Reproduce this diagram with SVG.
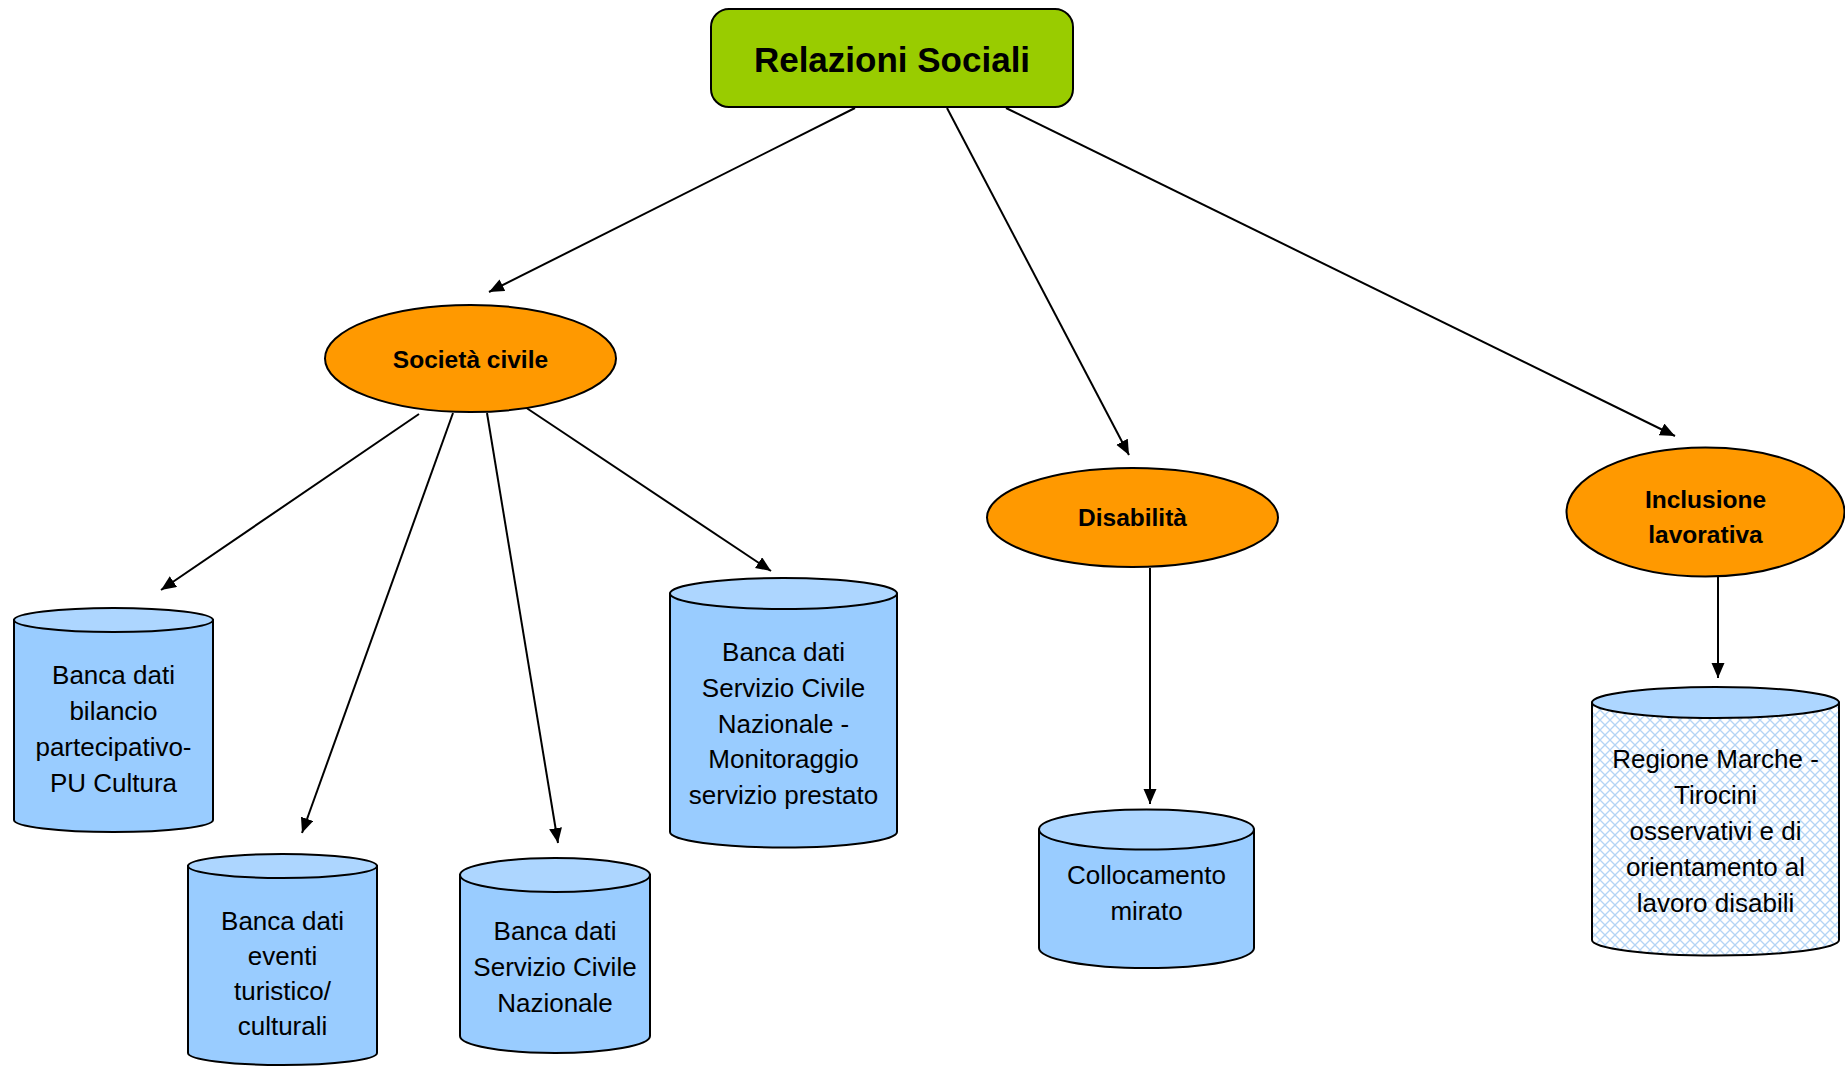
<svg xmlns="http://www.w3.org/2000/svg" width="1845" height="1066" viewBox="0 0 1845 1066">
<style>
.cyl{fill:#99CCFF;stroke:#000;stroke-width:2}
.cylh{fill:url(#hatch);stroke:#000;stroke-width:2}
.top{fill:#ADD6FF;stroke:#000;stroke-width:2}
.ell{fill:#FF9900;stroke:#000;stroke-width:2}
.t{font-family:"Liberation Sans",Arial,sans-serif;font-size:26px;fill:#000;text-anchor:middle}
.b{font-family:"Liberation Sans",Arial,sans-serif;font-weight:bold;font-size:24.5px;fill:#000;text-anchor:middle}
.c{stroke:#000;stroke-width:2;fill:none;marker-end:url(#arr)}
</style>
<defs>
<marker id="arr" markerUnits="userSpaceOnUse" markerWidth="16" markerHeight="14" refX="15" refY="6.5" orient="auto">
<path d="M0,0 L15,6.5 L0,13 z" fill="#000"/>
</marker>
<pattern id="hatch" patternUnits="userSpaceOnUse" width="10" height="10">
<rect width="10" height="10" fill="#fff"/>
<path d="M0,0 L10,10 M10,0 L0,10" stroke="#B3D4F5" stroke-width="1.3"/>
</pattern>
</defs>
<rect width="1845" height="1066" fill="#fff"/>
<g id="connectors">
<line class="c" x1="855" y1="108" x2="489" y2="292"/>
<line class="c" x1="947" y1="108" x2="1129" y2="455"/>
<line class="c" x1="1006" y1="108" x2="1675" y2="436"/>
<line class="c" x1="419" y1="414" x2="161" y2="590"/>
<line class="c" x1="453" y1="413" x2="302" y2="833"/>
<line class="c" x1="487" y1="413" x2="558" y2="843"/>
<line class="c" x1="525" y1="407" x2="771" y2="571"/>
<line class="c" x1="1150" y1="568" x2="1150" y2="804"/>
<line class="c" x1="1718" y1="577" x2="1718" y2="678"/>
</g>
<g id="relazioni">
<rect x="711" y="9" width="362" height="98" rx="18" ry="18" fill="#99CC00" stroke="#000" stroke-width="2"/>
<text x="892" y="72" class="b" style="font-size:35px">Relazioni Sociali</text>
</g>
<g id="societa">
<ellipse class="ell" cx="470.5" cy="358.5" rx="145.5" ry="53.5"/>
<text x="470.5" y="368" class="b">Società civile</text>
</g>
<g id="disabilita">
<ellipse class="ell" cx="1132.5" cy="517.5" rx="145.5" ry="49.5"/>
<text x="1132.5" y="526" class="b">Disabilità</text>
</g>
<g id="inclusione">
<ellipse class="ell" cx="1705.5" cy="512" rx="139" ry="64.5"/>
<text x="1705.5" y="508" class="b">Inclusione</text>
<text x="1705.5" y="543" class="b">lavorativa</text>
</g>
<g id="bilancio">
<path class="cyl" d="M14,620 L14,820 A99.5,12 0 0 0 213,820 L213,620 Z"/>
<ellipse class="top" cx="113.5" cy="620" rx="99.5" ry="12"/>
<text class="t" x="113.5" y="684">Banca dati</text>
<text class="t" x="113.5" y="720">bilancio</text>
<text class="t" x="113.5" y="756">partecipativo-</text>
<text class="t" x="113.5" y="792">PU Cultura</text>
</g>
<g id="eventi">
<path class="cyl" d="M188,866 L188,1053 A94.5,12 0 0 0 377,1053 L377,866 Z"/>
<ellipse class="top" cx="282.5" cy="866" rx="94.5" ry="12"/>
<text class="t" x="282.5" y="930">Banca dati</text>
<text class="t" x="282.5" y="965">eventi</text>
<text class="t" x="282.5" y="1000">turistico/</text>
<text class="t" x="282.5" y="1035">culturali</text>
</g>
<g id="scn">
<path class="cyl" d="M460,875 L460,1036 A95,17 0 0 0 650,1036 L650,875 Z"/>
<ellipse class="top" cx="555" cy="875" rx="95" ry="17"/>
<text class="t" x="555" y="940">Banca dati</text>
<text class="t" x="555" y="976">Servizio Civile</text>
<text class="t" x="555" y="1012">Nazionale</text>
</g>
<g id="monitoraggio">
<path class="cyl" d="M670,593.5 L670,832 A113.5,15.5 0 0 0 897,832 L897,593.5 Z"/>
<ellipse class="top" cx="783.5" cy="593.5" rx="113.5" ry="15.5"/>
<text class="t" x="783.5" y="661">Banca dati</text>
<text class="t" x="783.5" y="697">Servizio Civile</text>
<text class="t" x="783.5" y="733">Nazionale -</text>
<text class="t" x="783.5" y="768">Monitoraggio</text>
<text class="t" x="783.5" y="804">servizio prestato</text>
</g>
<g id="collocamento">
<path class="cyl" d="M1039,829.5 L1039,948 A107.5,20 0 0 0 1254,948 L1254,829.5 Z"/>
<ellipse class="top" cx="1146.5" cy="829.5" rx="107.5" ry="20"/>
<text class="t" x="1146.5" y="884">Collocamento</text>
<text class="t" x="1146.5" y="920">mirato</text>
</g>
<g id="regione">
<path class="cylh" d="M1592,702.5 L1592,940 A123.5,15.5 0 0 0 1839,940 L1839,702.5 Z"/>
<ellipse class="top" cx="1715.5" cy="702.5" rx="123.5" ry="15.5"/>
<text class="t" x="1715.5" y="768">Regione Marche -</text>
<text class="t" x="1715.5" y="804">Tirocini</text>
<text class="t" x="1715.5" y="840">osservativi e di</text>
<text class="t" x="1715.5" y="876">orientamento al</text>
<text class="t" x="1715.5" y="912">lavoro disabili</text>
</g>
</svg>
